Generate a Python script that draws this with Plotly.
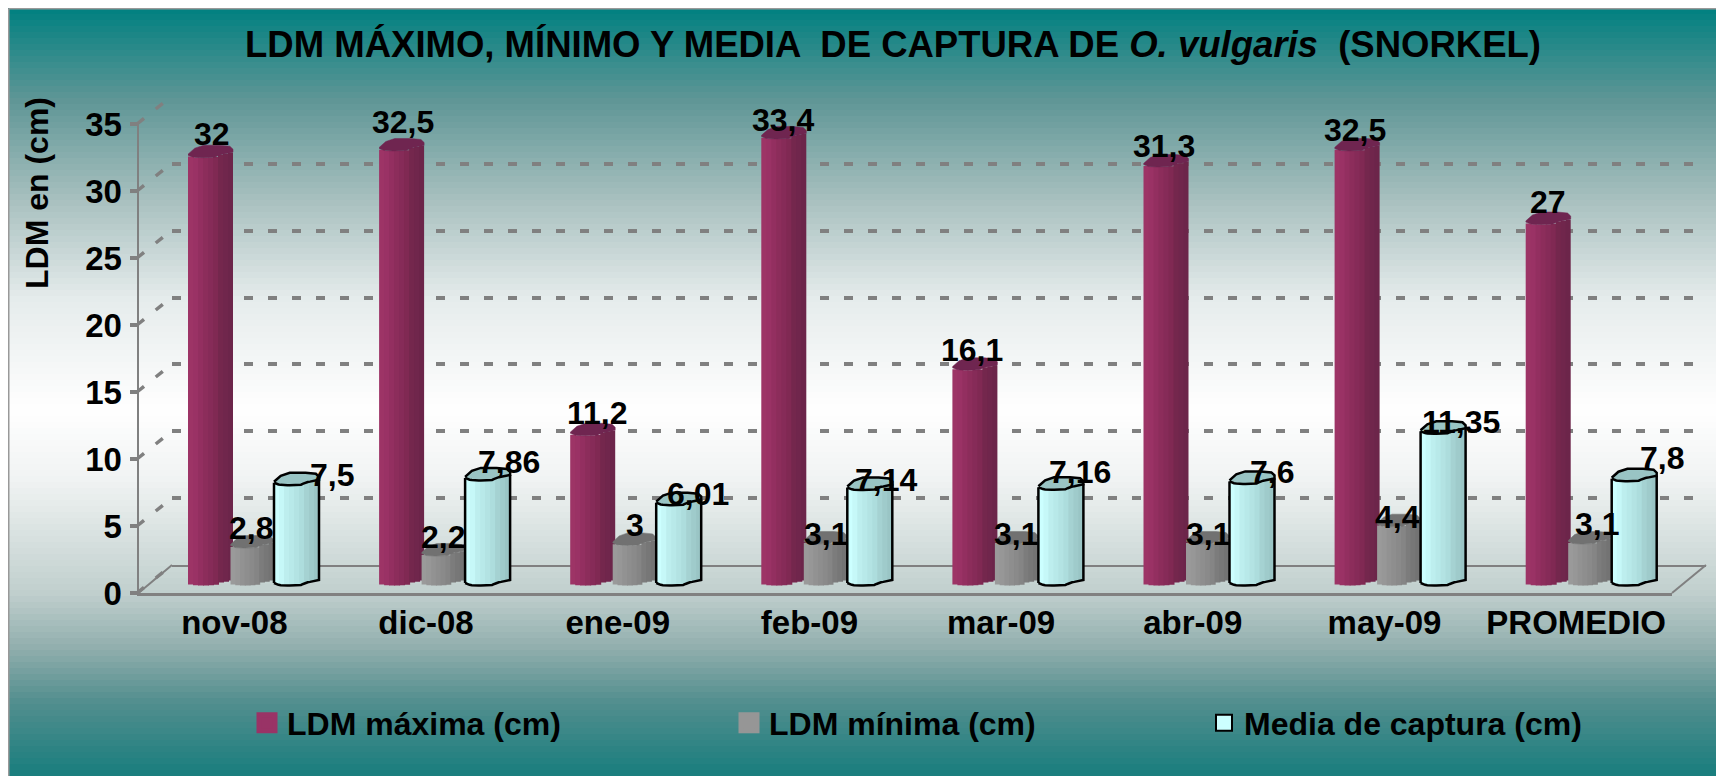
import plotly.graph_objects as go

CATEGORIES = ["nov-08", "dic-08", "ene-09", "feb-09", "mar-09", "abr-09", "may-09", "PROMEDIO"]
LDM_MAX = [32, 32.5, 11.2, 33.4, 16.1, 31.3, 32.5, 27]
LDM_MIN = [2.8, 2.2, 3, 3.1, 3.1, 3.1, 4.4, 3.1]
MEDIA = [7.5, 7.86, 6.01, 7.14, 7.16, 7.6, 11.35, 7.8]
Y_TICKS = [0, 5, 10, 15, 20, 25, 30, 35]
TITLE = "LDM MÁXIMO, MÍNIMO Y MEDIA  DE CAPTURA DE <i>O. vulgaris</i>  (SNORKEL)"

# hand-placed data label nudges (px: right, up)
NUDGE_MAX = [(1.5, 21), (1.4, 26.5), (4.3, 20), (-0.8, 16.4), (-2.9, 17.7), (-2, 18.5), (-2.6, 18.5), (-0.2, 20)]
NUDGE_MIN = [(-1, 17.6), (0, 16.6), (1, 17.9), (1, 7.6), (0, 7.6), (0, 7.6), (-1, 7.2), (7, 17.6)]
NUDGE_MED = [(35.5, 7.7), (21.4, 15.9), (19.3, 8.6), (16.2, 7.5), (19.1, 15.3), (20, 9.4), (17.9, 9.3), (27.8, 20.7)]

W, H = 1716, 768
FONT = "Liberation Sans"
GRID = "#808080"


def px(X):
    return (X - 8) / W


def py(Y):
    return 1 - (Y - 8) / H


UNIT = 13.37      # px per LDM unit
PITCH = 191.1     # px per category on the bar plane
CLUSTER0 = 253.5  # px of the first cluster centre
BAR_ZERO = 583.0
L_X, R_X = 138.0, 1706.0

# ---------- background bands
stops = [(8, (0, 128, 128)), (100, (95, 150, 150)), (200, (168, 192, 191)), (300, (230, 236, 236)),
         (410, (255, 255, 255)), (480, (240, 243, 243)), (593, (192, 207, 205)), (650, (143, 173, 172)),
         (700, (84, 143, 143)), (776, (24, 125, 125))]


def bg(y):
    for (a, ca), (b, cb) in zip(stops, stops[1:]):
        if a <= y <= b:
            t = (y - a) / (b - a)
            return "rgb(%d,%d,%d)" % tuple(round(p + (q - p) * t) for p, q in zip(ca, cb))
    return "rgb(255,255,255)"


shapes = []
for y0 in range(8, 776, 6):
    shapes.append(dict(type="rect", xref="paper", yref="paper", x0=px(8), x1=1.0, y0=py(y0), y1=py(min(y0 + 8, 776)),
                       fillcolor=bg(y0 + 3), line=dict(width=0), layer="below"))
shapes.append(dict(type="line", xref="paper", yref="paper", x0=px(8.5), x1=1.0, y0=py(8.5), y1=py(8.5),
                   line=dict(color="#999999", width=2), layer="below"))
shapes.append(dict(type="line", xref="paper", yref="paper", x0=px(8.5), x1=px(8.5), y0=py(8.5), y1=0,
                   line=dict(color="#999999", width=2), layer="below"))

# floor edges and slanted tick dashes
shapes.append(dict(type="line", xref="paper", yref="paper", x0=px(138.5), x1=px(172), y0=py(593), y1=py(565),
                   line=dict(color=GRID, width=2), layer="below"))
shapes.append(dict(type="line", xref="paper", yref="paper", x0=px(1672), x1=px(1706), y0=py(593), y1=py(565),
                   line=dict(color=GRID, width=2), layer="below"))
for v in Y_TICKS:
    yf = 593 - 13.4 * v
    shapes.append(dict(type="line", xref="paper", yref="paper", x0=px(137), x1=px(172), y0=py(yf), y1=py(yf - 28),
                       line=dict(color=GRID, width=3.5, dash="9px,15px"), layer="below"))

fig = go.Figure()

# back wall grid (x/y subplot, drawn first)
fig.add_trace(go.Scatter(x=[None], y=[None], xaxis="x", yaxis="y", showlegend=False, hoverinfo="skip"))

# ---------- cylinders
FRONT = [(0.0, 0.0), (0.06, -1.5), (0.2, -2.5), (0.4, -2.5), (0.6, -2.0), (0.72, 0.5), (0.85, 1.5), (1.0, 3.0)]
BACK = [(1.0, 6.0), (0.93, 9.0), (0.7, 10.0), (0.35, 10.0), (0.15, 7.0), (0.0, 1.0)]
N_STRIPS = 9


def front_px(f):
    for (a, pa), (b, pb) in zip(FRONT, FRONT[1:]):
        if a <= f <= b:
            return pa + (pb - pa) * (f - a) / (b - a)
    return 0.0


SERIES = [
    ("LDM máxima (cm)", LDM_MAX, -65.5, 45, ["#9d3466", "#9a3265", "#932f60", "#8c2d5b", "#862b58", "#802953", "#74274d", "#70264c", "#6c254a"],
     "#6f2550", "#993366"),
    ("LDM mínima (cm)", LDM_MIN, -23, 43, ["#9a9a9a", "#979797", "#929292", "#8e8e8e", "#8a8a8a", "#858585", "#7c7c7c", "#777777", "#737373"],
     "#717171", "#969696"),
    ("Media de captura (cm)", MEDIA, 20.5, 45, ["#ccffff", "#c6f8f8", "#bdeeee", "#b8e9e9", "#b3e3e3", "#addddd", "#a5d2d2", "#9fcbcb", "#9ac5c5"],
     "#99c4c4", "#ccffff"),
]

for name, vals, off, width, ramp, capcol, legcol in SERIES:
    for s in range(N_STRIPS):
        f0, f1 = s / N_STRIPS, (s + 1) / N_STRIPS
        base = front_px((f0 + f1) / 2) / UNIT
        extra = 0.0 if s == N_STRIPS - 1 else 1.0
        fig.add_trace(go.Bar(
            x=list(range(len(CATEGORIES))), y=vals, base=base, xaxis="x2", yaxis="y2",
            width=((f1 - f0) * width + extra) / PITCH,
            offset=(off + f0 * width) / PITCH,
            marker=dict(color=ramp[s], line=dict(width=0)),
            name=name, showlegend=False, hovertemplate="%{x}: %{y}<extra>" + name + "</extra>"))
    # top cap, bottom curve
    cx, cy = [], []
    for i, v in enumerate(vals):
        for f, h in [(k / 20, front_px(k / 20)) for k in range(21)] + BACK:
            cx.append(i + (off + f * width) / PITCH)
            cy.append(v + h / UNIT)
        cx.append(None)
        cy.append(None)
    is_media = vals is MEDIA
    fig.add_trace(go.Scatter(x=cx, y=cy, xaxis="x2", yaxis="y2", mode="lines", fill="toself", fillcolor=capcol,
                             line=dict(color="black" if is_media else capcol, width=2.5 if is_media else 0.5),
                             showlegend=False, hoverinfo="skip"))
    if is_media:
        ox, oy = [], []
        for i, v in enumerate(vals):
            for k in range(21):
                ox.append(i + (off + k / 20 * width) / PITCH)
                oy.append(front_px(k / 20) / UNIT)
            ox += [i + (off + width) / PITCH, None, i + off / PITCH, i + off / PITCH, None]
            oy += [v + front_px(1.0) / UNIT, None, 0, v, None]
        fig.add_trace(go.Scatter(x=ox, y=oy, xaxis="x2", yaxis="y2", mode="lines", line=dict(color="black", width=2.5),
                                 connectgaps=False, showlegend=False, hoverinfo="skip"))

# legend entries, one positioned legend per series
for (name, vals, off, width, ramp, capcol, legcol), leg in zip(SERIES, ("legend", "legend2", "legend3")):
    fig.add_trace(go.Scatter(x=[None], y=[None], xaxis="x2", yaxis="y2", mode="markers", name=name, legend=leg,
                             showlegend=True,
                             marker=dict(symbol="square", size=16, color=legcol,
                                         line=dict(color="black" if vals is MEDIA else legcol, width=2 if vals is MEDIA else 5))))

# front axis (category labels and value ticks)
fig.add_trace(go.Scatter(x=[None], y=[None], xaxis="x3", yaxis="y3", showlegend=False, hoverinfo="skip"))

# ---------- data labels
annotations = []
for (name, vals, off, width, *_), nudge in zip(SERIES, (NUDGE_MAX, NUDGE_MIN, NUDGE_MED)):
    for i, v in enumerate(vals):
        annotations.append(dict(
            x=i + (off + width / 2) / PITCH, y=v, xref="x2", yref="y2",
            text=str(v).replace(".", ","), showarrow=False, xanchor="center", yanchor="middle",
            xshift=nudge[i][0], yshift=nudge[i][1],
            font=dict(family=FONT, size=32, color="black", weight="bold")))
annotations.append(dict(x=px(37), y=py(193), xref="paper", yref="paper", text="LDM en (cm)", textangle=-90,
                        showarrow=False, xanchor="center", yanchor="middle",
                        font=dict(family=FONT, size=32, color="black", weight="bold")))

axis_hidden = dict(visible=False, showgrid=False, zeroline=False, fixedrange=True)
TICKFONT = dict(family=FONT, size=33, color="black", weight="bold")


def legend_at(X):
    return dict(orientation="h", x=px(X), y=py(723), xanchor="left", yanchor="middle",
                bgcolor="rgba(0,0,0,0)", itemclick=False, itemdoubleclick=False, itemwidth=30,
                font=dict(family=FONT, size=32, color="black", weight="bold"))


fig.update_layout(
    width=W, height=H, autosize=False, margin=dict(l=0, r=0, t=0, b=0, autoexpand=False),
    paper_bgcolor="white", plot_bgcolor="rgba(0,0,0,0)",
    barmode="overlay", shapes=shapes, annotations=annotations, hovermode="closest",
    title=dict(text=TITLE, x=px(893), y=py(44), xref="paper", yref="paper", xanchor="center", yanchor="middle",
               font=dict(family=FONT, size=36.5, color="black", weight="bold")),
    legend=legend_at(247), legend2=legend_at(729), legend3=legend_at(1204),
    # back wall
    xaxis=dict(domain=[px(172), px(1706)], range=[0, 1], anchor="y", showgrid=False, zeroline=False, showticklabels=False,
               ticks="", showline=True, linecolor=GRID, linewidth=2, fixedrange=True),
    yaxis=dict(domain=[py(565), py(97)], range=[0, 35], anchor="x", tickvals=Y_TICKS, showticklabels=False, ticks="",
               showgrid=True, gridcolor=GRID, gridwidth=3.5, griddash="9px,15px", zeroline=False, showline=False,
               fixedrange=True),
    # bar plane
    xaxis2=dict(domain=[px(L_X), px(R_X)], range=[(L_X - CLUSTER0) / PITCH, (R_X - CLUSTER0) / PITCH], anchor="y2", **axis_hidden),
    yaxis2=dict(domain=[py(BAR_ZERO + UNIT), py(BAR_ZERO - 38 * UNIT)], range=[-1, 38], anchor="x2", **axis_hidden),
    # front axes
    xaxis3=dict(domain=[px(138.5), px(1672)], range=[-0.5, 7.5], anchor="y3", tickmode="array", tickvals=list(range(8)),
                ticktext=CATEGORIES, tickfont=TICKFONT, ticks="", showgrid=False, zeroline=False, showline=True,
                linecolor=GRID, linewidth=2.5, ticklabelstandoff=-1, fixedrange=True),
    yaxis3=dict(domain=[py(593), py(124)], range=[0, 35], anchor="x3", tickmode="array", tickvals=Y_TICKS,
                tickfont=TICKFONT, ticks="outside", ticklen=7, tickwidth=3.5, tickcolor=GRID, showgrid=False, zeroline=False,
                showline=True, linecolor=GRID, linewidth=2, ticklabelstandoff=1, fixedrange=True),
)

fig.write_html("out.html", config=dict(displayModeBar=False, responsive=False))
